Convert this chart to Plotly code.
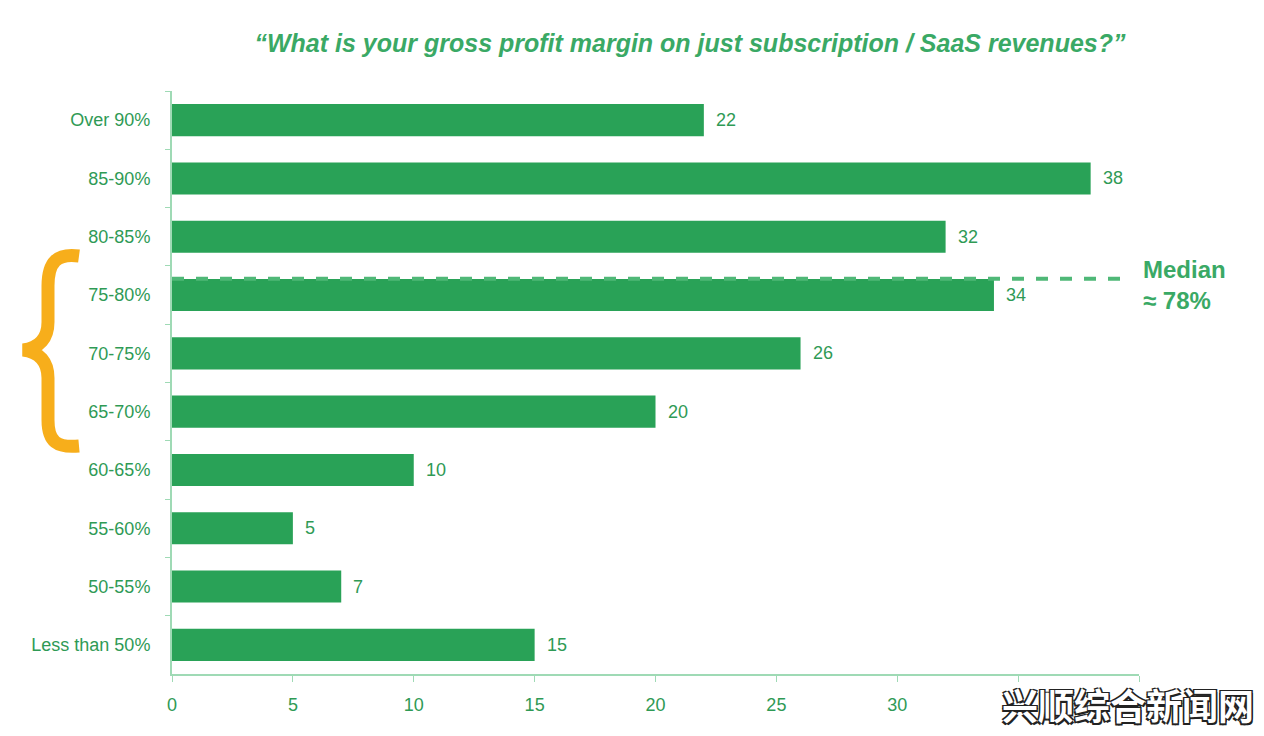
import plotly.graph_objects as go

categories = ["Over 90%", "85-90%", "80-85%", "75-80%", "70-75%", "65-70%",
              "60-65%", "55-60%", "50-55%", "Less than 50%"]
values = [22, 38, 32, 34, 26, 20, 10, 5, 7, 15]
x_tickvals = [0, 5, 10, 15, 20, 25, 30, 35, 40]
x_ticktext = ["0", "5", "10", "15", "20", "25", "30", "", ""]
median_label = "Median<br>≈ 78%"
title_text = "“What is your gross profit margin on just subscription / SaaS revenues?”"
watermark = "兴顺综合新闻网"

OFF = 8  # page body margin
W, H = 1264 - OFF, 736 - OFF
L, R, T, B = 172 - OFF, 1264 - 1139, 91 - OFF, 736 - 674
PW, PH = W - L - R, H - T - B

BAR = "#29a257"
TXT = "#2f9a55"
AXIS = "#9fdab5"
FONT = "Liberation Sans, Arial, sans-serif"

def px2paper(x, y):
    # reference pixel coords -> paper coords
    x, y = x - OFF, y - OFF
    return (x - L) / PW, (H - B - y) / PH

fig = go.Figure()
fig.add_trace(go.Bar(
    y=categories, x=values, orientation="h",
    marker=dict(color=BAR, line=dict(width=0)),
    width=0.55, hoverinfo="x+y",
))

for c, v in zip(categories, values):
    fig.add_annotation(x=v, y=c, xref="x", yref="y", text=str(v),
                       showarrow=False, xanchor="left", xshift=10,
                       font=dict(family=FONT, size=18, color=TXT))

# median dashed line
fig.add_shape(type="line", xref="x", yref="y", x0=0, x1=39.5, y0=2.72, y1=2.72,
              line=dict(color="#4fb877", width=4, dash="dash"))
mx, my = px2paper(1141, 285)
fig.add_annotation(x=mx, y=my, xref="paper", yref="paper", text=median_label,
                   showarrow=False, xanchor="left", yanchor="middle", align="left",
                   font=dict(family=FONT, size=24, color="#3aa965", weight="bold"))

# orange brace
pts = [
    ("M", [(79, 256)]),
    ("C", [(57, 253), (48, 262), (48, 286)]),
    ("L", [(48, 322)]),
    ("C", [(48, 338), (40, 348), (23, 350)]),
    ("C", [(40, 352), (48, 362), (48, 378)]),
    ("L", [(48, 420)]),
    ("C", [(48, 442), (57, 448), (79, 446)]),
]
path = ""
for cmd, ps in pts:
    path += cmd + " " + ", ".join("%.5f,%.5f" % px2paper(a, b) for a, b in ps) + " "
fig.add_shape(type="path", xref="paper", yref="paper", path=path.strip(),
              line=dict(color="#f7ae1b", width=13), fillcolor="rgba(0,0,0,0)")

# watermark
wx, wy = px2paper(1128, 704)
fig.add_annotation(x=wx, y=wy, xref="paper", yref="paper", text=watermark,
                   showarrow=False, xanchor="center", yanchor="middle",
                   font=dict(family="Noto Sans CJK SC", size=36, color="white", weight="bold",
                             shadow="1.5px 1.5px 0 #222, -1.5px -1.5px 0 #222, 1.5px -1.5px 0 #222, -1.5px 1.5px 0 #222"))

fig.update_layout(
    width=W, height=H,
    margin=dict(l=L, r=R, t=T, b=B),
    paper_bgcolor="white", plot_bgcolor="white",
    showlegend=False,
    title=dict(text=title_text, x=(690 - OFF) / W, xanchor="center", y=1 - (43 - OFF) / H, yanchor="middle",
               font=dict(family=FONT, size=25, color="#3aa965", weight="bold", style="italic")),
    xaxis=dict(range=[0, 40], tickvals=x_tickvals, ticktext=x_ticktext,
               showgrid=False, zeroline=False, showline=True, linecolor=AXIS, linewidth=2,
               ticks="outside", ticklen=6, tickcolor=AXIS, tickwidth=1,
               ticklabelstandoff=7,
               tickfont=dict(family=FONT, size=18, color=TXT)),
    yaxis=dict(type="category", categoryorder="array", categoryarray=categories,
               range=[9.5, -0.5], showgrid=False, zeroline=False,
               showline=True, linecolor=AXIS, linewidth=2,
               ticks="outside", ticklen=5, tickcolor=AXIS, tickson="boundaries",
               ticklabelstandoff=16,
               tickfont=dict(family=FONT, size=18, color=TXT)),
)

fig.write_html("out.html")
